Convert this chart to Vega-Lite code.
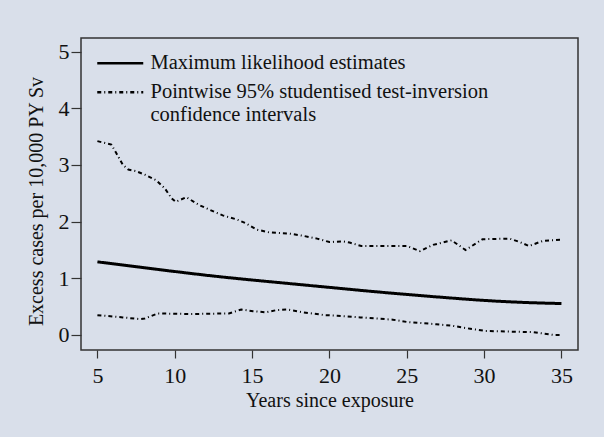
{
  "$schema": "https://vega.github.io/schema/vega-lite/v6.json",
  "width": 497,
  "height": 312,
  "autosize": {"type": "none"},
  "padding": {"left": 81, "top": 38, "right": 26, "bottom": 87},
  "background": "#d9dfea",
  "config": {
    "view": {"stroke": "#333333", "strokeWidth": 1.5, "fill": "#d9dfea"},
    "font": "Liberation Serif",
    "axis": {
      "domain": false, "grid": false,
      "tickColor": "#333333", "tickWidth": 1.2,
      "labelFont": "Liberation Serif", "labelFontSize": 22, "labelColor": "#111111",
      "titleFont": "Liberation Serif", "titleFontSize": 20, "titleFontWeight": "normal", "titleColor": "#111111"
    }
  },
  "datasets": {
    "mle": [
      {"series": "Maximum likelihood estimates", "year": 5, "value": 1.29},
      {"series": "Maximum likelihood estimates", "year": 7.5, "value": 1.205},
      {"series": "Maximum likelihood estimates", "year": 10, "value": 1.12},
      {"series": "Maximum likelihood estimates", "year": 12.5, "value": 1.04},
      {"series": "Maximum likelihood estimates", "year": 15, "value": 0.97},
      {"series": "Maximum likelihood estimates", "year": 17.5, "value": 0.905},
      {"series": "Maximum likelihood estimates", "year": 20, "value": 0.84},
      {"series": "Maximum likelihood estimates", "year": 22.5, "value": 0.775},
      {"series": "Maximum likelihood estimates", "year": 25, "value": 0.715},
      {"series": "Maximum likelihood estimates", "year": 27.5, "value": 0.66},
      {"series": "Maximum likelihood estimates", "year": 30, "value": 0.61},
      {"series": "Maximum likelihood estimates", "year": 32.5, "value": 0.575},
      {"series": "Maximum likelihood estimates", "year": 35, "value": 0.555}
    ],
    "ci": [
      {"series": "CI", "band": "upper", "year": 5, "value": 3.42}, {"series": "CI", "band": "upper", "year": 5.9, "value": 3.36},
      {"series": "CI", "band": "upper", "year": 6.2, "value": 3.22}, {"series": "CI", "band": "upper", "year": 6.65, "value": 3.0},
      {"series": "CI", "band": "upper", "year": 7.0, "value": 2.92}, {"series": "CI", "band": "upper", "year": 7.5, "value": 2.89},
      {"series": "CI", "band": "upper", "year": 8.06, "value": 2.83}, {"series": "CI", "band": "upper", "year": 8.8, "value": 2.73},
      {"series": "CI", "band": "upper", "year": 9.35, "value": 2.59}, {"series": "CI", "band": "upper", "year": 9.8, "value": 2.41},
      {"series": "CI", "band": "upper", "year": 10.06, "value": 2.35}, {"series": "CI", "band": "upper", "year": 10.75, "value": 2.43},
      {"series": "CI", "band": "upper", "year": 11.6, "value": 2.29}, {"series": "CI", "band": "upper", "year": 12.5, "value": 2.18},
      {"series": "CI", "band": "upper", "year": 13.1, "value": 2.11}, {"series": "CI", "band": "upper", "year": 14.0, "value": 2.04},
      {"series": "CI", "band": "upper", "year": 14.6, "value": 1.97}, {"series": "CI", "band": "upper", "year": 15.3, "value": 1.86},
      {"series": "CI", "band": "upper", "year": 16.1, "value": 1.81}, {"series": "CI", "band": "upper", "year": 17.4, "value": 1.79},
      {"series": "CI", "band": "upper", "year": 18.3, "value": 1.75}, {"series": "CI", "band": "upper", "year": 19.2, "value": 1.70},
      {"series": "CI", "band": "upper", "year": 20.0, "value": 1.64}, {"series": "CI", "band": "upper", "year": 20.9, "value": 1.65},
      {"series": "CI", "band": "upper", "year": 21.3, "value": 1.63}, {"series": "CI", "band": "upper", "year": 22.06, "value": 1.57},
      {"series": "CI", "band": "upper", "year": 25.0, "value": 1.57}, {"series": "CI", "band": "upper", "year": 25.85, "value": 1.48},
      {"series": "CI", "band": "upper", "year": 26.7, "value": 1.59}, {"series": "CI", "band": "upper", "year": 27.9, "value": 1.67},
      {"series": "CI", "band": "upper", "year": 28.8, "value": 1.50}, {"series": "CI", "band": "upper", "year": 29.9, "value": 1.69},
      {"series": "CI", "band": "upper", "year": 31.65, "value": 1.70}, {"series": "CI", "band": "upper", "year": 32.3, "value": 1.64},
      {"series": "CI", "band": "upper", "year": 32.9, "value": 1.57}, {"series": "CI", "band": "upper", "year": 33.8, "value": 1.66},
      {"series": "CI", "band": "upper", "year": 35, "value": 1.68},
      {"series": "CI", "band": "lower", "year": 5, "value": 0.35}, {"series": "CI", "band": "lower", "year": 6.65, "value": 0.31},
      {"series": "CI", "band": "lower", "year": 7.73, "value": 0.28}, {"series": "CI", "band": "lower", "year": 8.06, "value": 0.29},
      {"series": "CI", "band": "lower", "year": 8.9, "value": 0.38}, {"series": "CI", "band": "lower", "year": 11, "value": 0.37},
      {"series": "CI", "band": "lower", "year": 13.5, "value": 0.38}, {"series": "CI", "band": "lower", "year": 14.3, "value": 0.45},
      {"series": "CI", "band": "lower", "year": 15.06, "value": 0.42}, {"series": "CI", "band": "lower", "year": 15.9, "value": 0.40},
      {"series": "CI", "band": "lower", "year": 16.6, "value": 0.44}, {"series": "CI", "band": "lower", "year": 17.3, "value": 0.45},
      {"series": "CI", "band": "lower", "year": 18.3, "value": 0.40}, {"series": "CI", "band": "lower", "year": 19.7, "value": 0.35},
      {"series": "CI", "band": "lower", "year": 20.5, "value": 0.34}, {"series": "CI", "band": "lower", "year": 22, "value": 0.31},
      {"series": "CI", "band": "lower", "year": 24.1, "value": 0.27}, {"series": "CI", "band": "lower", "year": 25, "value": 0.23},
      {"series": "CI", "band": "lower", "year": 26.9, "value": 0.19}, {"series": "CI", "band": "lower", "year": 28, "value": 0.16},
      {"series": "CI", "band": "lower", "year": 29.1, "value": 0.11}, {"series": "CI", "band": "lower", "year": 30.1, "value": 0.07},
      {"series": "CI", "band": "lower", "year": 33.2, "value": 0.05}, {"series": "CI", "band": "lower", "year": 34.5, "value": 0.0},
      {"series": "CI", "band": "lower", "year": 35, "value": 0.0}
    ]
  },
  "encoding": {
    "x": {
      "field": "year", "type": "quantitative",
      "scale": {"domain": [3.94, 36.07], "nice": false, "zero": false},
      "axis": {"title": "Years since exposure", "values": [5, 10, 15, 20, 25, 30, 35], "tickSize": 8,
               "labelBaseline": "alphabetic", "labelPadding": 24, "titleBaseline": "alphabetic", "titleY": 56}
    },
    "y": {
      "field": "value", "type": "quantitative",
      "scale": {"domain": [-0.265, 5.24], "nice": false, "zero": false},
      "axis": {"title": "Excess cases per 10,000 PY Sv", "values": [0, 1, 2, 3, 4, 5], "tickSize": 10,
               "labelPadding": 2, "titleY": 163, "titleX": -45, "titleBaseline": "middle"}
    },
    "strokeDash": {
      "field": "series", "type": "nominal",
      "scale": {"domain": ["Maximum likelihood estimates", "CI"], "range": [[1, 0], [4, 3, 1, 3]]},
      "legend": {
        "orient": "none", "legendX": 16, "legendY": 15, "title": null, "padding": 0,
        "symbolType": "M-4.6,0H4.6", "symbolSize": 100, "symbolStrokeColor": "black", "symbolStrokeWidth": 2.5,
        "symbolOffset": 13,
        "labelFont": "Liberation Serif", "labelFontSize": 20.5, "labelColor": "#111111",
        "labelOffset": 20, "labelLimit": 600, "rowPadding": 8,
        "labelExpr": "datum.label == 'CI' ? ['Pointwise 95% studentised test-inversion', 'confidence intervals'] : datum.label"
      }
    }
  },
  "layer": [
    {
      "data": {"name": "mle"},
      "mark": {"type": "line", "color": "black", "strokeWidth": 3, "interpolate": "monotone"}
    },
    {
      "data": {"name": "ci"},
      "mark": {"type": "line", "color": "black", "strokeWidth": 2},
      "encoding": {
        "detail": {"field": "band", "type": "nominal"}
      }
    }
  ]
}
